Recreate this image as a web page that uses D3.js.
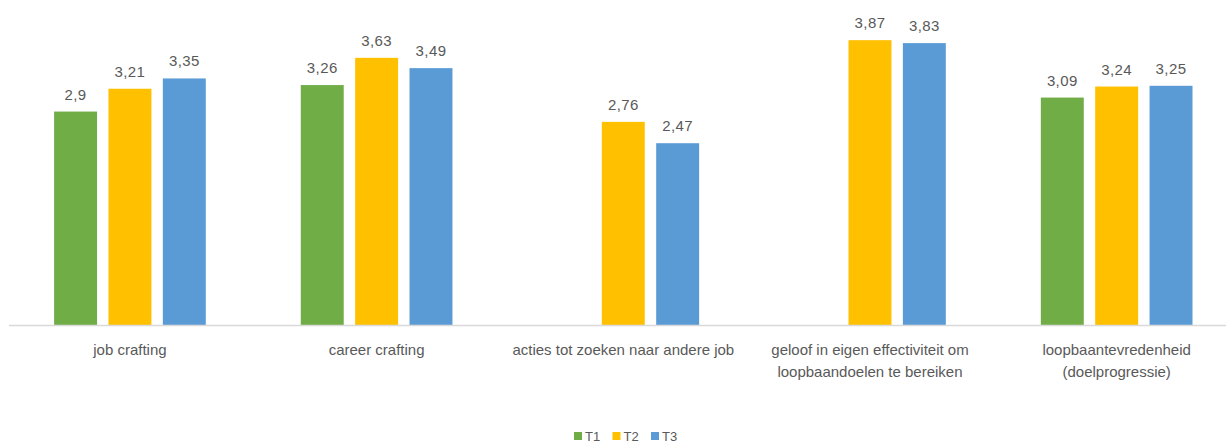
<!DOCTYPE html>
<html>
<head>
<meta charset="utf-8">
<title>Loopbaan T1 T2 T3</title>
<script src="https://d3js.org/d3.v7.min.js"></script>
<style>
  body { margin:0; background:#fff; }
  text { font-family: "Liberation Sans", Arial, sans-serif; fill:#595959; }
</style>
</head>
<body>
<svg id="chart" width="1226" height="446"></svg>
<script>
"use strict";

const categories = [
  ["job crafting"],
  ["career crafting"],
  ["acties tot zoeken naar andere job"],
  ["geloof in eigen effectiviteit om", "loopbaandoelen te bereiken"],
  ["loopbaantevredenheid", "(doelprogressie)"]
];
const seriesNames = ["T1", "T2", "T3"];
const colors = ["#70AD47", "#FFC000", "#5B9BD5"];
// null = no bar
const t1 = [2.9, 3.26, null, null, 3.09];
const t2 = [3.21, 3.63, 2.76, 3.87, 3.24];
const t3 = [3.35, 3.49, 2.47, 3.83, 3.25];
const values = [t1, t2, t3];

const svg = d3.select("#chart");
const base = 325;

const x0 = d3.scaleBand()
  .domain(d3.range(categories.length))
  .range([6.6, 1240]);
const x1 = d3.scaleBand()
  .domain(d3.range(seriesNames.length))
  .range([47.5, x0.bandwidth() - 47.5])
  .paddingInner(0.21);
const y = d3.scaleLinear().domain([0, 4.4]).range([base, base - 4.4 * 73.6]);

const fmt = v => String(v).replace(".", ",");

const groups = svg.selectAll("g.grp")
  .data(categories)
  .join("g")
  .attr("class", "grp")
  .attr("transform", (d, i) => `translate(${x0(i)},0)`);

groups.each(function(cat, ci) {
  const g = d3.select(this);
  seriesNames.forEach((s, si) => {
    const v = values[si][ci];
    if (v == null) return;
    g.append("rect")
      .attr("x", x1(si))
      .attr("width", x1.bandwidth())
      .attr("y", y(v))
      .attr("height", y(0) - y(v))
      .attr("fill", colors[si]);
    g.append("text")
      .attr("x", x1(si) + x1.bandwidth() / 2)
      .attr("y", y(v) - 12)
      .attr("text-anchor", "middle")
      .attr("font-size", 15)
      .attr("letter-spacing", 0.4)
      .text(fmt(v));
  });
  const t = g.append("text")
    .attr("text-anchor", "middle")
    .attr("font-size", 15)
    .attr("y", 355);
  cat.forEach((line, li) => {
    t.append("tspan")
      .attr("x", x0.bandwidth() / 2)
      .attr("dy", li === 0 ? 0 : 22)
      .text(line);
  });
});

// axis line
svg.append("line")
  .attr("x1", 9).attr("x2", 1226)
  .attr("y1", base + 0.5).attr("y2", base + 0.5)
  .attr("stroke", "#d9d9d9").attr("stroke-width", 1.5);

// legend
const legend = svg.append("g").attr("transform", "translate(574,432)");
const legX = d3.scalePoint().domain(seriesNames).range([0, 77]);
seriesNames.forEach((s, i) => {
  const lg = legend.append("g").attr("transform", `translate(${legX(s)},0)`);
  lg.append("rect").attr("width", 8).attr("height", 8).attr("fill", colors[i]);
  lg.append("text").attr("x", 11).attr("y", 9).attr("font-size", 13).text(s);
});
</script>
</body>
</html>
